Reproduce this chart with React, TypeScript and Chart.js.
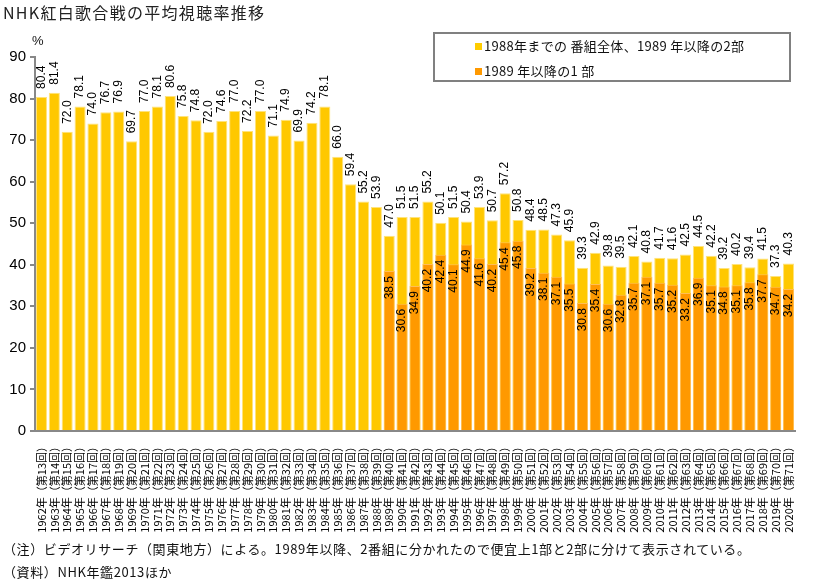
import { useEffect, useRef } from 'react';
import { Chart, registerables } from 'chart.js';

Chart.register(...registerables);

const years = [
  1962, 1963, 1964, 1965, 1966, 1967, 1968, 1969, 1970, 1971, 1972, 1973, 1974, 1975, 1976,
  1977, 1978, 1979, 1980, 1981, 1982, 1983, 1984, 1985, 1986, 1987, 1988, 1989, 1990, 1991,
  1992, 1993, 1994, 1995, 1996, 1997, 1998, 1999, 2000, 2001, 2002, 2003, 2004, 2005, 2006,
  2007, 2008, 2009, 2010, 2011, 2012, 2013, 2014, 2015, 2016, 2017, 2018, 2019, 2020,
];
const editions = years.map((_, i) => 13 + i);
const labels = years.map((y, i) => `${y}年（第${editions[i]}回）`);

// 1988年までは番組全体、1989年以降は第2部
const part2 = [
  80.4, 81.4, 72.0, 78.1, 74.0, 76.7, 76.9, 69.7, 77.0, 78.1, 80.6, 75.8, 74.8, 72.0, 74.6,
  77.0, 72.2, 77.0, 71.1, 74.9, 69.9, 74.2, 78.1, 66.0, 59.4, 55.2, 53.9, 47.0, 51.5, 51.5,
  55.2, 50.1, 51.5, 50.4, 53.9, 50.7, 57.2, 50.8, 48.4, 48.5, 47.3, 45.9, 39.3, 42.9, 39.8,
  39.5, 42.1, 40.8, 41.7, 41.6, 42.5, 44.5, 42.2, 39.2, 40.2, 39.4, 41.5, 37.3, 40.3,
];
// 1989年以降の第1部
const part1 = [
  null, null, null, null, null, null, null, null, null, null, null, null, null, null, null,
  null, null, null, null, null, null, null, null, null, null, null, null, 38.5, 30.6, 34.9,
  40.2, 42.4, 40.1, 44.9, 41.6, 40.2, 45.4, 45.8, 39.2, 38.1, 37.1, 35.5, 30.8, 35.4, 30.6,
  32.8, 35.7, 37.1, 35.7, 35.2, 33.2, 36.9, 35.1, 34.8, 35.1, 35.8, 37.7, 34.7, 34.2,
];
const yTicks = [0, 10, 20, 30, 40, 50, 60, 70, 80, 90];

const legendItems = [
  { text: '1988年までの 番組全体、1989 年以降の2部', color: '#FFCC00' },
  { text: '1989 年以降の1 部', color: '#FF9900' },
];

const LATIN = '"Liberation Sans", Arial, "Noto Sans CJK JP", sans-serif';

const valueLabels = {
  id: 'valueLabels',
  afterDatasetsDraw(chart: Chart) {
    const ctx = chart.ctx;
    ctx.save();
    ctx.font = `12px ${LATIN}`;
    ctx.fillStyle = '#000';
    ctx.textBaseline = 'middle';
    chart.data.datasets.forEach((ds, di) => {
      const meta = chart.getDatasetMeta(di);
      meta.data.forEach((el: any, i: number) => {
        const v = ds.data[i] as number | null;
        if (v == null) return;
        ctx.save();
        if (di === 0) {
          ctx.translate(el.x, el.y - 8);
          ctx.rotate(-Math.PI / 2);
          ctx.textAlign = 'left';
        } else {
          ctx.translate(el.x, el.y + 5);
          ctx.rotate(-Math.PI / 2);
          ctx.textAlign = 'right';
        }
        ctx.fillText(v.toFixed(1), 0, 0);
        ctx.restore();
      });
    });
    ctx.restore();
  },
};

export default function App() {
  const canvasRef = useRef<HTMLCanvasElement>(null);

  useEffect(() => {
    const chart = new Chart(canvasRef.current!, {
      type: 'bar',
      data: {
        labels,
        datasets: [
          {
            label: legendItems[0].text,
            data: part2,
            backgroundColor: '#FFC800',
            borderColor: '#FFE37A',
            borderWidth: 1,
            grouped: false,
            order: 2,
            barPercentage: 0.86,
            categoryPercentage: 1,
          },
          {
            label: legendItems[1].text,
            data: part1,
            backgroundColor: '#FF9900',
            borderColor: '#FFBE55',
            borderWidth: 1,
            grouped: false,
            order: 1,
            barPercentage: 0.86,
            categoryPercentage: 1,
          },
        ],
      },
      options: {
        animation: false,
        responsive: false,
        layout: { padding: { left: 0, top: 57, right: 19, bottom: 0 } },
        plugins: {
          legend: { display: false },
          tooltip: { enabled: false },
        },
        scales: {
          x: {
            grid: { display: false },
            border: { display: true, color: '#888', width: 2 },
            ticks: {
              autoSkip: false,
              minRotation: 90,
              maxRotation: 90,
              padding: 2,
              color: '#000',
              font: { family: '"Noto Sans CJK JP", sans-serif', size: 11 },
            },
            afterFit: (s: any) => {
              s.height = 153;
            },
          },
          y: {
            min: 0,
            max: 90,
            afterBuildTicks: (s: any) => {
              s.ticks = yTicks.map((v) => ({ value: v }));
            },
            grid: {
              display: true,
              drawOnChartArea: false,
              drawTicks: true,
              tickLength: 5,
              color: '#888',
              lineWidth: 2,
            },
            border: { display: true, color: '#888', width: 2 },
            ticks: {
              color: '#000',
              padding: 4,
              font: { family: LATIN, size: 15 },
            },
            afterFit: (s: any) => {
              s.width = 35;
            },
          },
        },
      },
      plugins: [valueLabels],
    });
    return () => chart.destroy();
  }, []);

  return (
    <div
      style={{
        position: 'fixed',
        left: 0,
        top: 0,
        width: 814,
        height: 584,
        background: '#fff',
        fontFamily: '"Noto Sans CJK JP", sans-serif',
        color: '#111',
      }}
    >
      <canvas ref={canvasRef} width={814} height={584} style={{ position: 'absolute', left: 0, top: 0 }} />
      <div
        style={{
          position: 'absolute',
          left: 3,
          top: 1,
          fontSize: 16,
          lineHeight: '22px',
          letterSpacing: '1.3px',
          color: '#222',
        }}
      >
        NHK紅白歌合戦の平均視聴率推移
      </div>
      <div style={{ position: 'absolute', left: 32, top: 33, fontSize: 13, fontFamily: LATIN }}>%</div>
      <div
        style={{
          position: 'absolute',
          left: 433,
          top: 32,
          width: 354,
          height: 46,
          border: '2px solid #808080',
          fontSize: 13,
        }}
      >
        {legendItems.map((it, i) => (
          <div
            key={i}
            style={{
              position: 'absolute',
              left: 40,
              top: 2 + i * 25,
              display: 'flex',
              alignItems: 'center',
              lineHeight: '20px',
              whiteSpace: 'nowrap',
              letterSpacing: '0.3px',
            }}
          >
            <span style={{ width: 7, height: 7, background: it.color, marginRight: 2, display: 'inline-block' }} />
            {it.text}
          </div>
        ))}
      </div>
      <div
        style={{
          position: 'absolute',
          left: 3,
          top: 539,
          fontSize: 13,
          lineHeight: '20px',
          whiteSpace: 'nowrap',
          letterSpacing: '0.6px',
        }}
      >
        （注）ビデオリサーチ（関東地方）による。1989年以降、2番組に分かれたので便宜上1部と2部に分けて表示されている。
      </div>
      <div
        style={{
          position: 'absolute',
          left: 3,
          top: 562,
          fontSize: 13,
          lineHeight: '20px',
          whiteSpace: 'nowrap',
          letterSpacing: '0.6px',
        }}
      >
        （資料）NHK年鑑2013ほか
      </div>
    </div>
  );
}
